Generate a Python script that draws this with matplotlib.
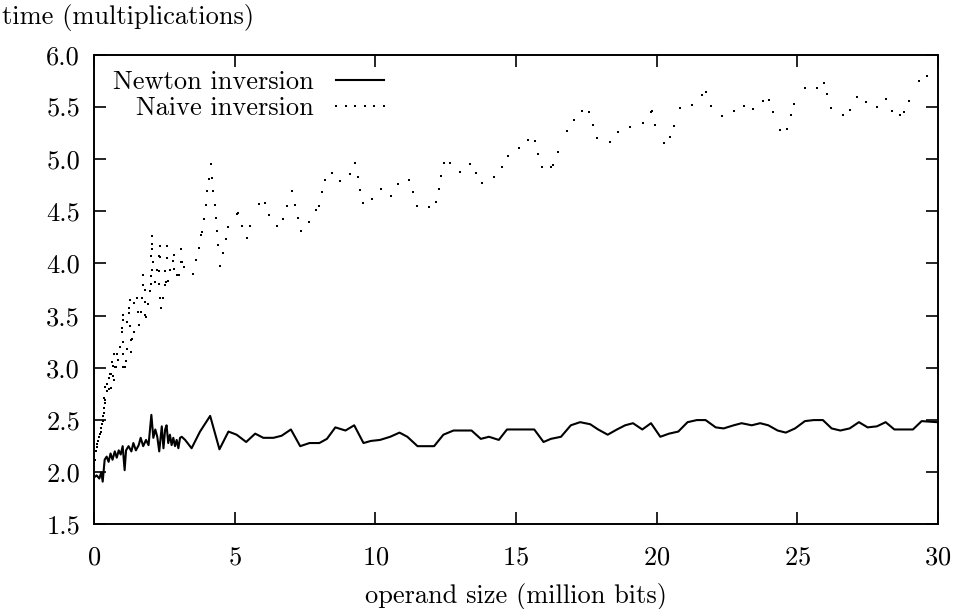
import numpy as np
import matplotlib.pyplot as plt
from matplotlib.ticker import FormatStrFormatter

plt.rcParams['font.family'] = 'cmr10'
plt.rcParams['mathtext.fontset'] = 'cm'
plt.rcParams['axes.formatter.use_mathtext'] = True

# Newton inversion (solid line)
newton_x = [0.00, 0.095, 0.19, 0.26, 0.31, 0.38, 0.45, 0.52, 0.59, 0.66, 0.74, 0.81,
            0.88, 0.95, 1.02, 1.09, 1.14, 1.23, 1.33, 1.40, 1.49, 1.59, 1.66, 1.75,
            1.85, 1.94, 2.04, 2.11, 2.18, 2.25, 2.32, 2.41, 2.47, 2.53, 2.58, 2.64,
            2.70, 2.76, 2.82, 2.88, 2.94, 3.00, 3.06, 3.12, 3.24, 3.47, 3.77, 4.13,
            4.46, 4.78, 5.07, 5.41, 5.73, 6.02, 6.38, 6.67, 7.00, 7.33, 7.66, 8.01,
            8.28, 8.58, 8.94, 9.25, 9.58, 9.84, 10.17, 10.53, 10.86, 11.14, 11.50,
            12.09, 12.42, 12.78, 13.42, 13.75, 14.04, 14.39, 14.68, 15.65, 15.98,
            16.24, 16.60, 16.95, 17.28, 17.64, 17.92, 18.26, 18.59, 18.88, 19.16,
            19.49, 19.80, 20.13, 20.44, 20.77, 21.10, 21.43, 21.74, 22.10, 22.38,
            22.74, 23.02, 23.38, 23.68, 23.97, 24.30, 24.59, 24.92, 25.27, 25.58,
            25.91, 26.22, 26.53, 26.86, 27.19, 27.50, 27.83, 28.14, 28.45, 29.11,
            29.42, 29.97]
newton_y = [1.95, 1.97, 1.94, 2.00, 1.91, 2.12, 2.15, 2.10, 2.18, 2.12, 2.20, 2.14,
            2.21, 2.17, 2.25, 2.02, 2.21, 2.25, 2.20, 2.28, 2.21, 2.26, 2.33, 2.25,
            2.31, 2.26, 2.55, 2.33, 2.41, 2.34, 2.20, 2.44, 2.23, 2.41, 2.45, 2.28,
            2.36, 2.26, 2.33, 2.25, 2.31, 2.23, 2.33, 2.34, 2.31, 2.23, 2.39, 2.54,
            2.22, 2.39, 2.36, 2.29, 2.37, 2.33, 2.33, 2.35, 2.41, 2.25, 2.28, 2.28,
            2.32, 2.43, 2.40, 2.45, 2.28, 2.30, 2.31, 2.34, 2.38, 2.34, 2.25,
            2.25, 2.36, 2.40, 2.40, 2.32, 2.34, 2.31, 2.41, 2.41, 2.29,
            2.32, 2.34, 2.45, 2.48, 2.46, 2.41, 2.36, 2.41, 2.45, 2.47,
            2.41, 2.47, 2.34, 2.37, 2.39, 2.48, 2.50, 2.50, 2.43, 2.42,
            2.45, 2.47, 2.45, 2.47, 2.45, 2.40, 2.38, 2.42, 2.49, 2.50,
            2.50, 2.42, 2.40, 2.42, 2.48, 2.43, 2.44, 2.48, 2.41, 2.41,
            2.49, 2.48]

# Naive inversion (dots)
naive_x = [0.04, 0.06, 0.10, 0.12, 0.15, 0.18, 0.21, 0.24, 0.26, 0.28, 0.31, 0.33, 0.36, 0.37, 0.38,
           0.36, 0.40, 0.47, 0.38, 0.52, 0.45, 0.59, 0.52, 0.57, 0.62, 0.66, 0.71, 0.64, 0.69, 0.74,
           0.78, 0.71, 0.81, 0.85, 0.93, 1.02, 1.02, 1.04, 1.09, 1.14, 1.16, 1.30, 1.33, 1.35, 1.00,
           1.00, 1.02, 1.02, 1.16, 1.28, 1.42, 1.26, 1.26, 1.28, 1.42, 1.54, 1.57, 1.59, 1.66, 1.71,
           1.80, 1.83, 1.85, 1.92, 1.75, 1.75, 1.80, 1.99, 2.02, 2.04, 2.06, 2.11, 2.04, 2.06, 2.06,
           2.06, 2.16, 2.25, 2.30, 2.32, 2.35, 2.35, 2.32, 2.35, 2.44, 2.37, 2.51, 2.56, 2.58, 2.58,
           2.54, 2.63, 2.70, 2.80, 2.85, 2.85, 2.96, 3.04, 3.08, 3.13, 3.20, 3.08, 3.53, 3.63, 3.72,
           3.79, 3.84, 3.91, 3.98, 4.01, 4.08, 4.15, 4.20, 4.22, 4.29, 4.34, 4.36, 4.41, 4.48, 4.58,
           4.69, 4.77, 5.07, 5.12, 5.26, 5.43, 5.55, 5.88, 6.07, 6.21, 6.50, 6.71, 6.85, 7.04, 7.14,
           7.26, 7.35, 7.63, 7.90, 7.99, 8.11, 8.20, 8.46, 8.75, 9.10, 9.27, 9.39, 9.46, 9.56, 9.89,
           10.20, 10.55, 10.81, 11.19, 11.33, 11.48, 11.90, 12.16, 12.26, 12.33, 12.45, 12.66,
           13.02, 13.37, 13.59, 13.80, 14.23, 14.51, 14.72, 15.10, 15.43, 15.67, 15.79, 15.93,
           16.24, 16.31, 16.50, 16.81, 17.07, 17.36, 17.59, 17.73, 17.88, 18.35, 18.64, 19.06,
           19.51, 19.81, 19.83, 19.94, 20.26, 20.47, 20.61, 20.83, 21.25, 21.61, 21.75, 21.93,
           22.33, 22.75, 23.10, 23.42, 23.78, 24.00, 24.13, 24.38, 24.63, 24.78, 24.88, 25.27,
           25.70, 25.95, 26.06, 26.20, 26.62, 26.87, 27.12, 27.44, 27.83, 28.15, 28.37, 28.65,
           28.79, 28.98, 29.33, 29.61]
naive_y = [2.12, 2.20, 2.24, 2.27, 2.30, 2.34, 2.37, 2.39, 2.42, 2.46, 2.49, 2.54, 2.57, 2.62, 2.66,
           2.71, 2.69, 2.78, 2.82, 2.80, 2.85, 2.81, 2.90, 2.94, 2.94, 2.92, 2.88, 3.06, 3.02, 3.01,
           3.01, 3.13, 3.13, 3.08, 3.20, 3.25, 3.13, 3.01, 3.01, 3.07, 3.18, 3.15, 3.27, 3.28, 3.34,
           3.38, 3.46, 3.51, 3.44, 3.40, 3.34, 3.53, 3.57, 3.65, 3.62, 3.67, 3.54, 3.41, 3.54, 3.67,
           3.63, 3.51, 3.49, 3.61, 3.89, 3.79, 3.75, 3.74, 3.80, 3.88, 3.94, 4.01, 4.07, 4.14, 4.19,
           4.26, 3.82, 3.94, 4.07, 3.93, 4.06, 4.17, 3.80, 3.67, 3.67, 3.57, 3.79, 3.82, 4.05, 4.17,
           3.93, 3.83, 3.94, 4.02, 3.95, 4.08, 3.89, 3.89, 4.01, 4.01, 3.97, 4.14, 3.90, 4.03, 4.15,
           4.27, 4.30, 4.43, 4.56, 4.69, 4.81, 4.95, 4.82, 4.69, 4.56, 4.44, 4.31, 4.18, 3.98, 4.10,
           4.23, 4.35, 4.47, 4.48, 4.36, 4.24, 4.36, 4.57, 4.58, 4.46, 4.36, 4.43, 4.55, 4.69, 4.56,
           4.44, 4.31, 4.40, 4.51, 4.55, 4.68, 4.80, 4.87, 4.79, 4.86, 4.96, 4.83, 4.70, 4.58, 4.62,
           4.71, 4.65, 4.76, 4.80, 4.68, 4.55, 4.54, 4.59, 4.71, 4.84, 4.96, 4.96,
           4.88, 4.95, 4.87, 4.77, 4.83, 4.92, 5.03, 5.11, 5.18, 5.17, 5.05, 4.92,
           4.92, 4.94, 5.07, 5.27, 5.37, 5.46, 5.45, 5.33, 5.20, 5.16, 5.26, 5.31,
           5.35, 5.45, 5.46, 5.33, 5.15, 5.21, 5.32, 5.49, 5.52, 5.61, 5.64, 5.51,
           5.41, 5.46, 5.51, 5.48, 5.56, 5.57, 5.45, 5.28, 5.29, 5.42, 5.53, 5.68,
           5.68, 5.73, 5.62, 5.49, 5.42, 5.47, 5.59, 5.55, 5.50, 5.58, 5.46, 5.42,
           5.45, 5.56, 5.75, 5.80]

x_ticks = [0, 5, 10, 15, 20, 25, 30]
y_ticks = [1.5, 2.0, 2.5, 3.0, 3.5, 4.0, 4.5, 5.0, 5.5, 6.0]

fs = 19

fig = plt.figure(figsize=(9.54, 6.09), dpi=100)
ax = fig.add_axes([0.0985, 0.1388, 0.8847, 0.7714])

ax.plot(newton_x, newton_y, color='black', lw=1.5, label='Newton inversion')
ax.plot(naive_x, naive_y, ls='none', marker='s', ms=1.6, mew=0, color='black',
        label='Naive inversion')

ax.set_xlim(0, 30)
ax.set_ylim(1.5, 6.0)
ax.set_xticks(x_ticks)
ax.set_yticks(y_ticks)
ax.yaxis.set_major_formatter(FormatStrFormatter('%.1f'))
ax.tick_params(direction='in', length=8.6, width=1.2, top=True, right=True, labelsize=fs)
ax.tick_params(axis='x', pad=15)
ax.tick_params(axis='y', pad=10)
for s in ax.spines.values():
    s.set_linewidth(1.4)

ax.set_xlabel('operand size (million bits)', fontsize=fs, labelpad=10)
fig.text(0.002, 0.972, 'time (multiplications)', ha='left', va='center', fontsize=fs)

ax.legend(loc='upper right', bbox_to_anchor=(0.353, 0.966), frameon=False,
          markerfirst=False, numpoints=6, handlelength=2.4, handletextpad=0.55,
          labelspacing=0.08, borderpad=0, borderaxespad=0, fontsize=fs)

fig.savefig('out.png', dpi=100)
